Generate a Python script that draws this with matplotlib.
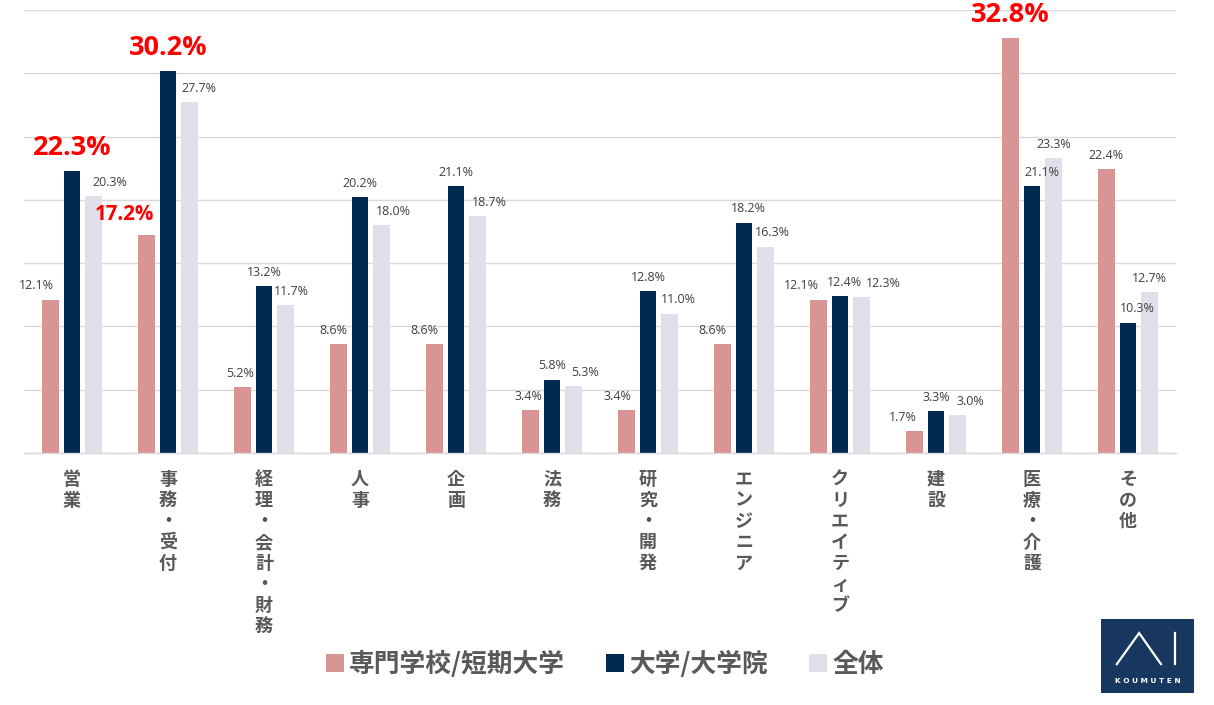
import matplotlib
matplotlib.use("Agg")
import matplotlib.pyplot as plt
from matplotlib.patches import Patch
import numpy as np

categories = ["営業", "事務・受付", "経理・会計・財務", "人事", "企画", "法務",
              "研究・開発", "エンジニア", "クリエイティブ", "建設", "医療・介護", "その他"]
series_names = ["専門学校/短期大学", "大学/大学院", "全体"]
senmon = [12.1, 17.2, 5.2, 8.6, 8.6, 3.4, 3.4, 8.6, 12.1, 1.7, 32.8, 22.4]
daigaku = [22.3, 30.2, 13.2, 20.2, 21.1, 5.8, 12.8, 18.2, 12.4, 3.3, 21.1, 10.3]
zentai = [20.3, 27.7, 11.7, 18.0, 18.7, 5.3, 11.0, 16.3, 12.3, 3.0, 23.3, 12.7]
# values highlighted in large red text: (series index, category index)
highlights = [(1, 0), (1, 1), (0, 1), (0, 10)]

colors = ["#D99594", "#002A50", "#E2DEEA"]
txt_gray = "#595959"
cjk = ["Noto Sans CJK JP", "DejaVu Sans"]
latin = ["Open Sans", "DejaVu Sans"]

# layout: horizontal nudges (points) of value labels, per series and category
label_dx = [
    [-10.5, -16, -2, -3.5, -7, -1.5, -6.5, -7, -12, -8.5, 0, 0],
    [0, 0, 0, 0, 0, 0, 0, 3, 3.5, 0, 7, 6.5],
    [11.5, 7, 4.5, 8.5, 8.5, 8.5, 6.5, 5, 16, 9.5, 0, 0],
]

fig = plt.figure(figsize=(12.14, 7.05), dpi=100)
ax = fig.add_axes([24/1214, 1-453/705, 1152/1214, 443/705])

x = np.arange(len(categories))
width = 0.172
step = 0.224
all_series = [senmon, daigaku, zentai]
for k, vals in enumerate(all_series):
    ax.bar(x + (k-1)*step, vals, width, color=colors[k], zorder=2)

ax.set_xlim(-0.5, len(categories)-0.5)
ax.set_ylim(0, 35)
ax.set_yticks(np.arange(0, 36, 5))
ax.yaxis.grid(True, color="#D9D9D9", linewidth=1.0, zorder=0)
ax.set_axisbelow(True)
for s in ["top", "right", "left"]:
    ax.spines[s].set_visible(False)
ax.spines["bottom"].set_color("#D9D9D9")
ax.spines["bottom"].set_linewidth(1.0)
ax.tick_params(axis="both", length=0, labelleft=False, labelbottom=False)

for k, vals in enumerate(all_series):
    for i, v in enumerate(vals):
        xc = i + (k-1)*step
        dx = label_dx[k][i]
        if (k, i) in highlights:
            big = not (k == 0 and i == 1)
            ax.annotate(f"{v:.1f}%", (xc, v), xytext=(dx, 16.5 if big else 15),
                        textcoords="offset points", ha="center", va="center",
                        fontsize=19.5 if big else 14.8, fontweight="bold",
                        color="#FF0000", family=latin)
        else:
            ax.annotate(f"{v:.1f}%", (xc, v), xytext=(dx, 10),
                        textcoords="offset points", ha="center", va="center",
                        fontsize=9, color="#404040", family=latin)

# vertical category labels
for i, c in enumerate(categories):
    ax.annotate("\n".join(c), (i, 0), xycoords=("data", "axes fraction"),
                xytext=(0, -12), textcoords="offset points", ha="center", va="top",
                fontsize=13, fontweight="bold", color=txt_gray, family=cjk,
                linespacing=1.14)

handles = [Patch(facecolor=colors[k], edgecolor="none") for k in range(3)]
fig.legend(handles, series_names, loc="center", bbox_to_anchor=(0.498, 0.057),
           ncol=3, frameon=False, handlelength=0.7, handleheight=0.7,
           handletextpad=0.2, columnspacing=1.6,
           prop={"family": cjk, "size": 18.5, "weight": "bold"}, labelcolor=txt_gray)

# logo
lax = fig.add_axes([1101/1214, 1-693/705, 93/1214, 74/705])
lax.set_facecolor("#17375E")
lax.set_xlim(0, 1); lax.set_ylim(0, 1)
lax.set_xticks([]); lax.set_yticks([])
for s in lax.spines.values():
    s.set_visible(False)
lax.plot([0.17, 0.41, 0.645], [0.39, 0.81, 0.39], color="white", lw=1.6,
         solid_joinstyle="miter")
lax.plot([0.80, 0.80], [0.39, 0.81], color="white", lw=1.6)
lax.text(0.5, 0.16, "K O U M U T E N", ha="center", va="center", color="white",
         fontsize=5.3, fontweight="bold", family=["DejaVu Sans"])

fig.savefig("out.png", dpi=100, facecolor="white")
